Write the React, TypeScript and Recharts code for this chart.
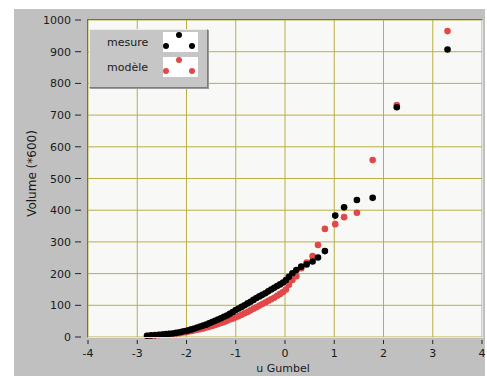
import React from "react";
import { ScatterChart, Scatter, XAxis, YAxis, CartesianGrid, Legend, Label } from "recharts";

const uGumbel = [
  -2.8, -2.72, -2.64, -2.56, -2.49, -2.42, -2.35, -2.28, -2.21, -2.14, -2.08, -2.02,
  -1.96, -1.9, -1.84, -1.78, -1.72, -1.66, -1.6, -1.54, -1.48, -1.42, -1.36, -1.3, -1.24, -1.18, -1.12, -1.06, -1.0,
  -0.94, -0.88, -0.82, -0.76, -0.7, -0.64, -0.58, -0.52, -0.46, -0.4, -0.34, -0.28, -0.22, -0.16, -0.1, -0.04,
  0.02, 0.08, 0.15, 0.23, 0.33, 0.44, 0.56, 0.67, 0.81,
  1.02, 1.2, 1.46, 1.78, 2.27, 3.3,
];

const mesure = [
  4, 5, 6, 7, 8, 9, 10, 11, 13, 15, 17, 19,
  21, 24, 27, 30, 33, 36, 39, 43, 47, 51, 55, 59, 64, 68, 73, 79, 85,
  90, 95, 100, 106, 111, 117, 123, 128, 133, 138, 144, 150, 155, 161, 166, 172,
  180, 190, 201, 211, 222, 229, 238, 251, 271,
  383, 409, 432, 439, 725, 907,
];

const modele = [
  4, 4, 5, 6, 7, 8, 9, 10, 11, 12, 14, 15,
  17, 19, 21, 23, 25, 27, 30, 32, 35, 38, 41, 44, 47, 51, 55, 58, 62,
  66, 70, 75, 79, 84, 89, 94, 99, 104, 109, 114, 119, 124, 130, 136, 142,
  150, 165, 180, 192, 217, 235, 255, 290, 341,
  356, 378, 392, 558, 732, 965,
];

const xTicks = [-4, -3, -2, -1, 0, 1, 2, 3, 4];
const yTicks = [0, 100, 200, 300, 400, 500, 600, 700, 800, 900, 1000];

const seriesNames = { mesure: "mesure", modele: "modèle" };
const xLabel = "u Gumbel";
const yLabel = "Volume (*600)";

const BLACK = "#000000";
const RED = "#e24848";
const FONT = "'DejaVu Sans', sans-serif";
const TEXT = "#1a1a1a";

const mesureData = uGumbel.map((u, i) => ({ u, v: mesure[i] }));
const modeleData = uGumbel.map((u, i) => ({ u, v: modele[i] }));

const dot = (color: string) => (props: any) => {
  const { cx, cy } = props;
  if (cx == null || cy == null) return <g />;
  return <circle cx={cx} cy={cy} r={3.3} fill={color} />;
};

const XTick = (props: any) => {
  const { x, y, payload } = props;
  return (
    <g>
      <line x1={x} x2={x} y1={y + 3} y2={y + 7} stroke="#222" strokeWidth={1} />
      <text x={x} y={y + 20} textAnchor="middle" fontFamily={FONT} fontSize={11} fill={TEXT}>
        {payload.value}
      </text>
    </g>
  );
};

const YTick = (props: any) => {
  const { x, y, payload } = props;
  return (
    <g>
      <line x1={x - 13} x2={x - 7} y1={y} y2={y} stroke="#222" strokeWidth={1} />
      <text x={x - 17} y={y + 4} textAnchor="end" fontFamily={FONT} fontSize={11} fill={TEXT}>
        {payload.value}
      </text>
    </g>
  );
};

const Swatch = ({ color }: { color: string }) => (
  <svg width={35} height={20} style={{ display: "block", background: "#ffffff" }}>
    <circle cx={16} cy={3} r={3} fill={color} />
    <circle cx={3} cy={14} r={3} fill={color} />
    <circle cx={29} cy={14} r={3} fill={color} />
  </svg>
);

const legendItems = [
  { name: seriesNames.mesure, color: BLACK },
  { name: seriesNames.modele, color: RED },
];

const LegendPanel = () => (
  <div
    style={{
      position: "relative",
      width: 117,
      height: 57,
      background: "#c6c6c6",
      borderTop: "1px solid #ececec",
      borderLeft: "1px solid #ececec",
      borderBottom: "1px solid #7c7c7c",
      borderRight: "1px solid #7c7c7c",
      boxShadow: "1px 1px 0 #9a9a9a",
    }}
  >
    {legendItems.map((it, i) => (
      <React.Fragment key={it.name}>
        <div
          style={{
            position: "absolute",
            left: 17,
            top: 6 + i * 25,
            fontFamily: FONT,
            fontSize: 11,
            color: TEXT,
            lineHeight: "14px",
          }}
        >
          {it.name}
        </div>
        <div style={{ position: "absolute", left: 73, top: 2 + i * 25 }}>
          <Swatch color={it.color} />
        </div>
      </React.Fragment>
    ))}
  </div>
);

export default function App() {
  return (
    <div style={{ position: "absolute", left: 0, top: 0, width: 487, height: 376, background: "#ffffff", overflow: "hidden" }}>
      <div style={{ position: "absolute", left: 14, top: 9, width: 471, height: 367, background: "#c0c0c0" }} />
      <div style={{ position: "absolute", left: 0, top: 0 }}>
        <ScatterChart width={487} height={376} margin={{ top: 20, right: 5, bottom: 0, left: 0 }}>
          <CartesianGrid stroke="#b8b044" strokeWidth={1} fill="#f8f8f6" horizontalValues={yTicks} verticalValues={xTicks} />
          <XAxis
            type="number"
            dataKey="u"
            domain={[-4, 4]}
            ticks={xTicks}
            height={39}
            tickSize={0}
            tickMargin={0}
            axisLine={false}
            tickLine={false}
            tick={<XTick />}
            interval={0}
          >
            <Label
              content={(p: any) => {
                const vb = p.viewBox || {};
                return (
                  <text x={vb.x + vb.width / 2 - 2} y={372} textAnchor="middle" fontFamily={FONT} fontSize={11} fill={TEXT}>
                    {xLabel}
                  </text>
                );
              }}
            />
          </XAxis>
          <YAxis
            type="number"
            dataKey="v"
            domain={[0, 1000]}
            ticks={yTicks}
            width={88}
            tickSize={0}
            tickMargin={0}
            axisLine={false}
            tickLine={false}
            tick={<YTick />}
            interval={0}
          >
            <Label
              content={(p: any) => {
                const vb = p.viewBox || {};
                const cy = vb.y + vb.height / 2 - 5;
                return (
                  <text
                    transform={`translate(${vb.x + 36}, ${cy}) rotate(-90)`}
                    textAnchor="middle"
                    fontFamily={FONT}
                    fontSize={12}
                    fill={TEXT}
                  >
                    {yLabel}
                  </text>
                );
              }}
            />
          </YAxis>
          <Legend
            layout="horizontal"
            align="center"
            verticalAlign="middle"
            wrapperStyle={{ left: 89, top: 29, width: 119, height: 59 }}
            content={() => <LegendPanel />}
          />
          <Scatter name={seriesNames.modele} data={modeleData} fill={RED} shape={dot(RED)} isAnimationActive={false} />
          <Scatter name={seriesNames.mesure} data={mesureData} fill={BLACK} shape={dot(BLACK)} isAnimationActive={false} />
        </ScatterChart>
      </div>
      <div
        style={{
          position: "absolute",
          left: 87,
          top: 19,
          width: 394,
          height: 317,
          borderTop: "1px solid #6e6e6e",
          borderLeft: "1px solid #6e6e6e",
          borderRight: "1px solid #e4e4e4",
          borderBottom: "1px solid #e4e4e4",
          pointerEvents: "none",
        }}
      />
    </div>
  );
}
